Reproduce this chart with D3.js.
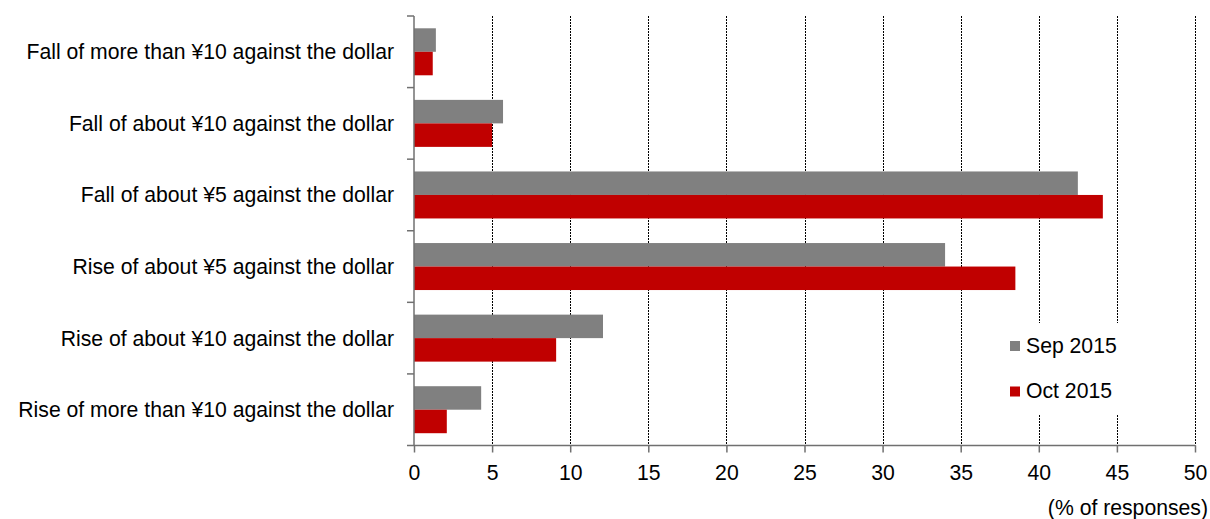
<!DOCTYPE html>
<html>
<head>
<meta charset="utf-8">
<script src="https://cdn.jsdelivr.net/npm/d3@7"></script>
<style>
  html, body { margin: 0; padding: 0; background: #fff; }
  svg { display: block; font-family: Arial, "Liberation Sans", sans-serif; }
</style>
</head>
<body>
<svg id="chart" width="1210" height="519"></svg>
<script>
// Expected yen/dollar movement, share of responses
const categories = [
  "Fall of more than \u00a510 against the dollar",
  "Fall of about \u00a510 against the dollar",
  "Fall of about \u00a55 against the dollar",
  "Rise of about \u00a55 against the dollar",
  "Rise of about \u00a510 against the dollar",
  "Rise of more than \u00a510 against the dollar"
];
const seriesNames = ["Sep 2015", "Oct 2015"];
const sep2015 = [1.4, 5.7, 42.5, 34.0, 12.1, 4.3];
const oct2015 = [1.2, 5.0, 44.1, 38.5, 9.1, 2.1];
const xTicks = [0, 5, 10, 15, 20, 25, 30, 35, 40, 45, 50];
const unitLabel = "(% of responses)";

const seriesColors = ["#808080", "#c00000"];
const series = [sep2015, oct2015];
const fontSize = 21.2;

const svg = d3.select("#chart");
const margin = { left: 414, right: 1210 - 1195, top: 16, bottom: 519 - 445.5 };
const W = 1210 - margin.left - margin.right;
const H = 519 - margin.top - margin.bottom;
const g = svg.append("g").attr("transform", `translate(${margin.left},${margin.top})`);

const x = d3.scaleLinear().domain([0, 50]).range([0, W]);
const y = d3.scaleBand().domain(categories).range([0, H]);
const inner = d3.scaleBand().domain(seriesNames)
  .range([0, y.bandwidth()]).paddingOuter(0.5 * (y.bandwidth() - 47) / 23.5).paddingInner(0);

// vertical dotted gridlines
g.append("g").selectAll("line")
  .data(xTicks.filter(d => d > 0))
  .join("line")
  .attr("x1", d => Math.round(x(d)) + 0.5).attr("x2", d => Math.round(x(d)) + 0.5)
  .attr("y1", 0).attr("y2", H)
  .attr("stroke", "#000").attr("stroke-width", 1)
  .attr("stroke-dasharray", "2,1");

// bars
const rows = g.append("g").selectAll("g")
  .data(categories)
  .join("g")
  .attr("transform", d => `translate(0,${y(d)})`);

rows.selectAll("rect")
  .data((c, i) => seriesNames.map((s, k) => ({ s, v: series[k][i], k })))
  .join("rect")
  .attr("x", 0)
  .attr("y", d => inner(d.s))
  .attr("width", d => x(d.v))
  .attr("height", inner.bandwidth())
  .attr("fill", d => seriesColors[d.k]);

// x axis
const xAxis = g.append("g")
  .attr("transform", `translate(0,${H})`)
  .call(d3.axisBottom(x).tickValues(xTicks).tickSize(7).tickSizeOuter(0).tickPadding(12));
xAxis.select(".domain").attr("stroke", "#707070").attr("stroke-width", 1.5)
  .attr("d", `M-7,0H${W}`);
xAxis.selectAll(".tick line").attr("stroke", "#707070").attr("stroke-width", 1.5);
xAxis.selectAll(".tick text").attr("font-size", fontSize).attr("fill", "#000")
  .attr("font-family", "Arial, 'Liberation Sans', sans-serif");

// y axis with ticks on band boundaries
const yAxisG = g.append("g");
yAxisG.append("line")
  .attr("x1", 0).attr("x2", 0).attr("y1", 0).attr("y2", H)
  .attr("stroke", "#707070").attr("stroke-width", 1.5);
yAxisG.selectAll("line.bt")
  .data(categories)
  .join("line")
  .attr("class", "bt")
  .attr("x1", -7).attr("x2", 0)
  .attr("y1", d => y(d)).attr("y2", d => y(d))
  .attr("stroke", "#707070").attr("stroke-width", 1.5);

// category labels
g.append("g").selectAll("text")
  .data(categories)
  .join("text")
  .attr("x", -20)
  .attr("y", d => y(d) + y.bandwidth() / 2)
  .attr("dy", "0.35em")
  .attr("text-anchor", "end")
  .attr("font-size", fontSize)
  .attr("fill", "#000")
  .text(d => d);

// unit label
svg.append("text")
  .attr("x", 1208).attr("y", 515)
  .attr("text-anchor", "end")
  .attr("font-size", fontSize)
  .attr("fill", "#000")
  .text(unitLabel);

// legend
const legend = svg.append("g");
legend.append("rect")
  .attr("x", 1002).attr("y", 323).attr("width", 136).attr("height", 92)
  .attr("fill", "#fff");
const li = legend.selectAll("g.item")
  .data(seriesNames)
  .join("g")
  .attr("class", "item")
  .attr("transform", (d, i) => `translate(1010,${341 + i * 45.5})`);
li.append("rect")
  .attr("width", 10).attr("height", 10)
  .attr("fill", (d, i) => seriesColors[i]);
li.append("text")
  .attr("x", 16).attr("y", 11.5)
  .attr("font-size", fontSize)
  .attr("fill", "#000")
  .text(d => d);
</script>
</body>
</html>
